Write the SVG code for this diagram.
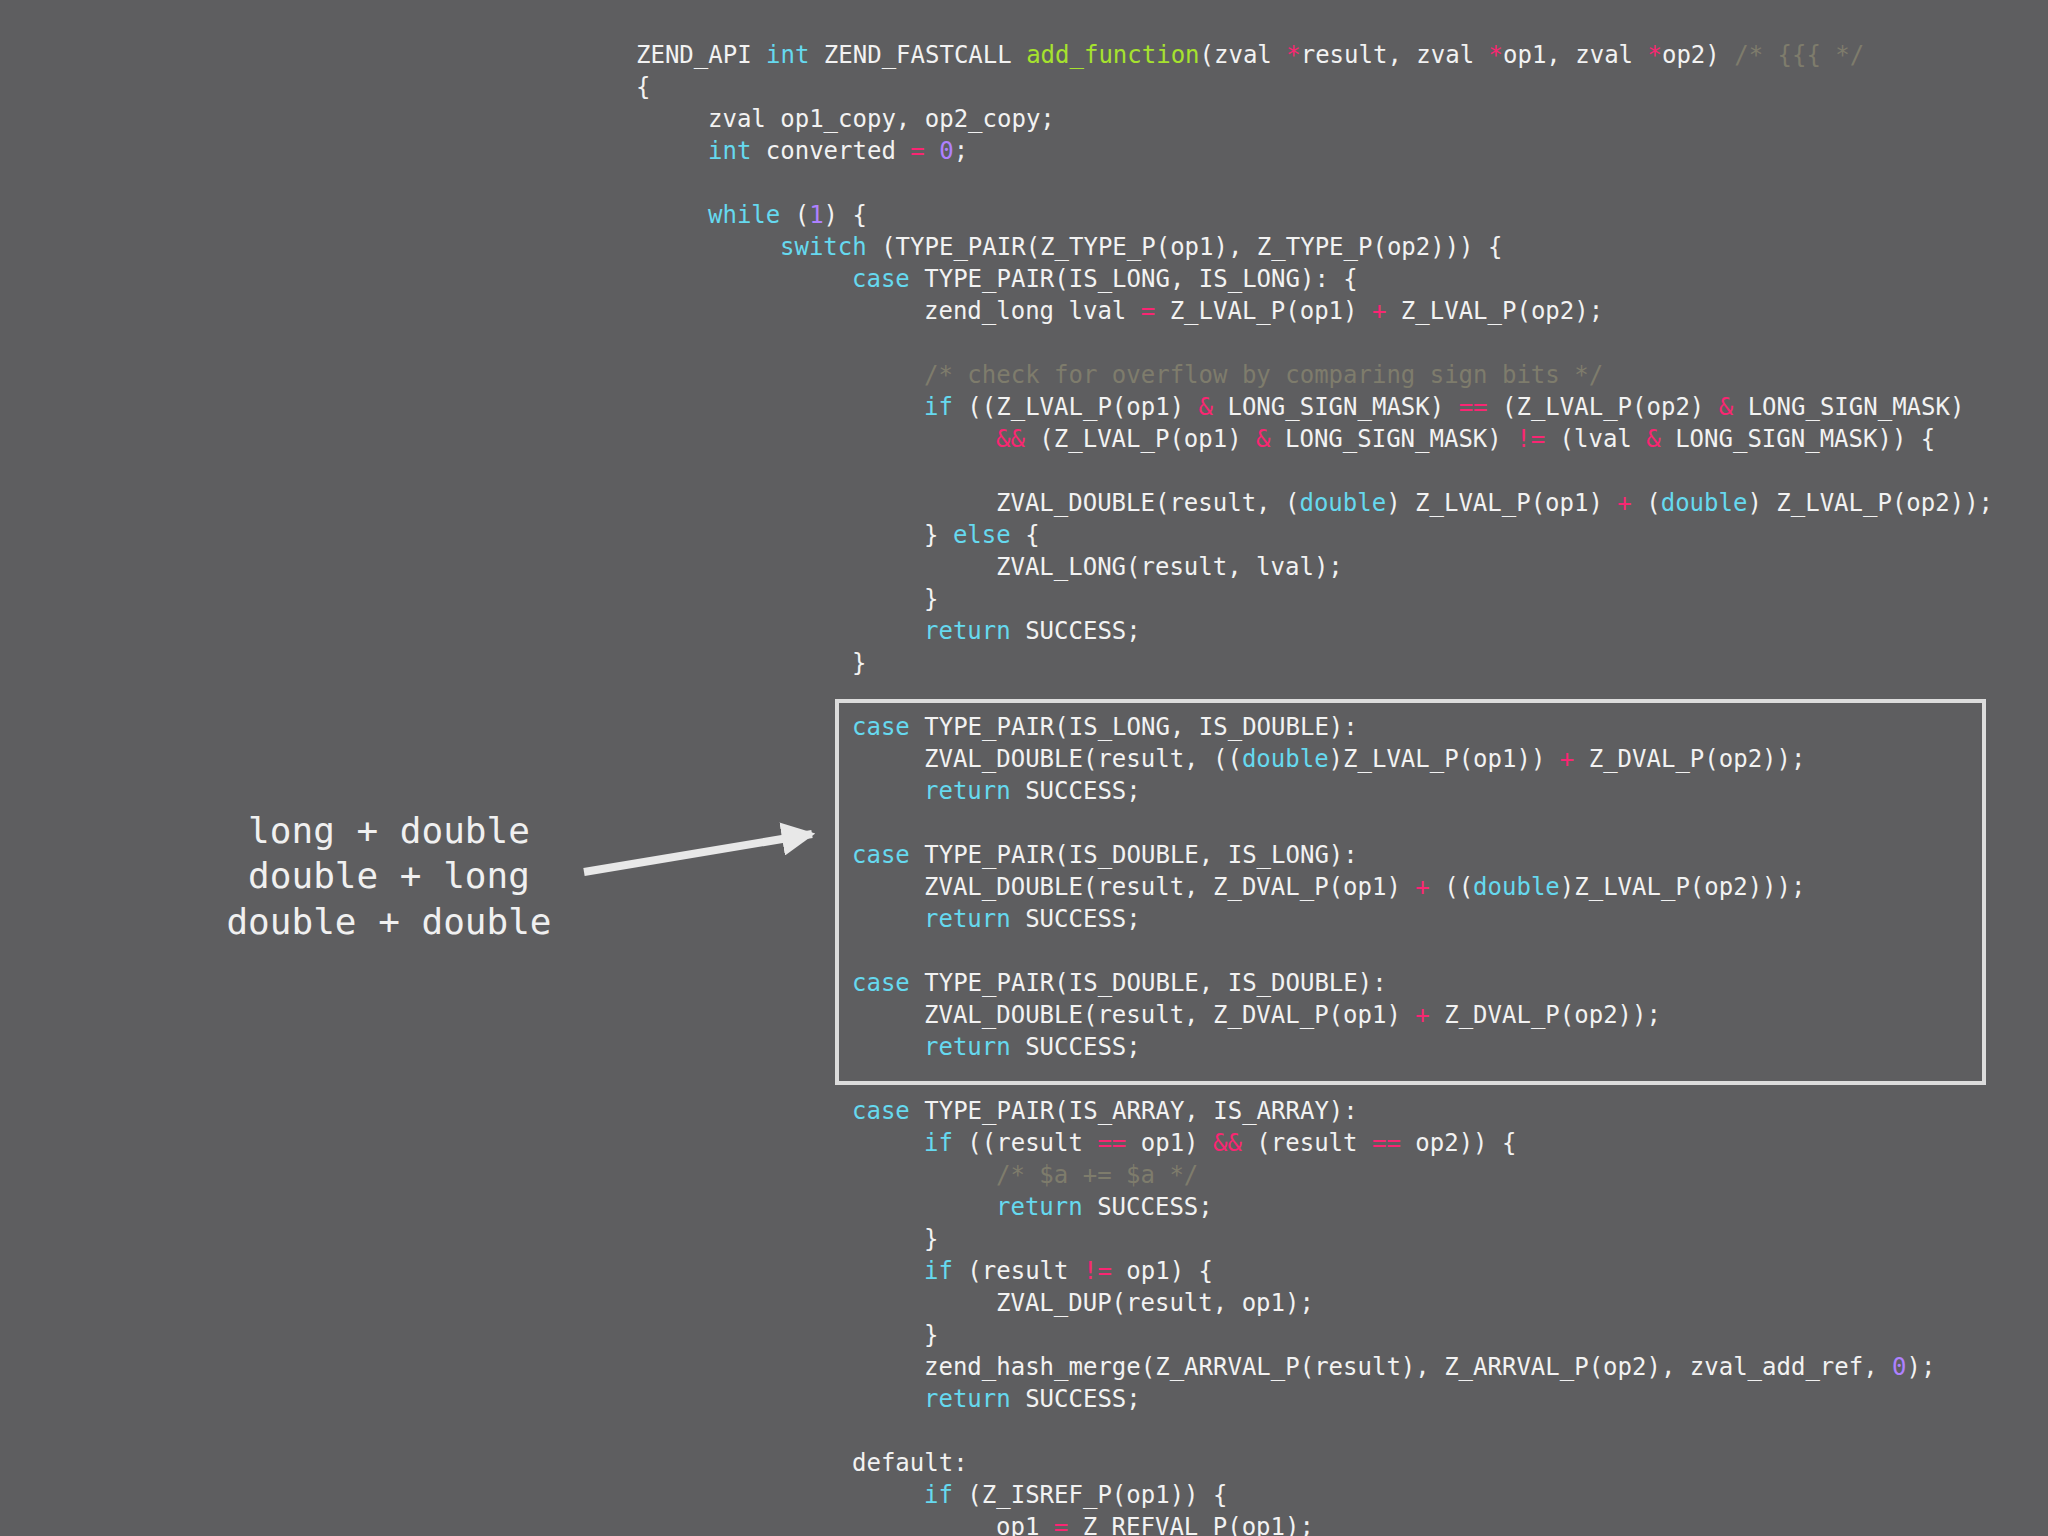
<svg xmlns="http://www.w3.org/2000/svg" width="2048" height="1536" viewBox="0 0 2048 1536">
<style>
.c{font-family:"DejaVu Sans Mono","Liberation Mono",monospace;font-size:24px;fill:#f2f2f2;white-space:pre}
.k{fill:#66d9ef}.o{fill:#f92672}.n{fill:#ae81ff}.f{fill:#a6e22e}.m{fill:#7e7c6c}
.lbl{font-family:"DejaVu Sans Mono","Liberation Mono",monospace;font-size:36px;fill:#f0f0f0;text-anchor:middle}
</style>
<defs><marker id="ah" viewBox="0 0 10 10" refX="9" refY="5" markerWidth="4.2" markerHeight="4.2" orient="auto" markerUnits="strokeWidth"><path d="M0,0 L10,5 L0,10 z" fill="#e8e8e8"/></marker></defs>
<rect width="2048" height="1536" fill="#5e5e60"/>
<g id="code" xml:space="preserve">
<text class="c" x="636" y="63">ZEND_API <tspan class="k">int</tspan> ZEND_FASTCALL <tspan class="f">add_function</tspan>(zval <tspan class="o">*</tspan>result, zval <tspan class="o">*</tspan>op1, zval <tspan class="o">*</tspan>op2) <tspan class="m">/* {{{ */</tspan></text>
<text class="c" x="636" y="95">{</text>
<text class="c" x="708" y="127">zval op1_copy, op2_copy;</text>
<text class="c" x="708" y="159"><tspan class="k">int</tspan> converted <tspan class="o">=</tspan> <tspan class="n">0</tspan>;</text>
<text class="c" x="708" y="223"><tspan class="k">while</tspan> (<tspan class="n">1</tspan>) {</text>
<text class="c" x="780" y="255"><tspan class="k">switch</tspan> (TYPE_PAIR(Z_TYPE_P(op1), Z_TYPE_P(op2))) {</text>
<text class="c" x="852" y="287"><tspan class="k">case</tspan> TYPE_PAIR(IS_LONG, IS_LONG): {</text>
<text class="c" x="924" y="319">zend_long lval <tspan class="o">=</tspan> Z_LVAL_P(op1) <tspan class="o">+</tspan> Z_LVAL_P(op2);</text>
<text class="c m" x="924" y="383">/* check for overflow by comparing sign bits */</text>
<text class="c" x="924" y="415"><tspan class="k">if</tspan> ((Z_LVAL_P(op1) <tspan class="o">&amp;</tspan> LONG_SIGN_MASK) <tspan class="o">==</tspan> (Z_LVAL_P(op2) <tspan class="o">&amp;</tspan> LONG_SIGN_MASK)</text>
<text class="c" x="996" y="447"><tspan class="o">&amp;&amp;</tspan> (Z_LVAL_P(op1) <tspan class="o">&amp;</tspan> LONG_SIGN_MASK) <tspan class="o">!=</tspan> (lval <tspan class="o">&amp;</tspan> LONG_SIGN_MASK)) {</text>
<text class="c" x="996" y="511">ZVAL_DOUBLE(result, (<tspan class="k">double</tspan>) Z_LVAL_P(op1) <tspan class="o">+</tspan> (<tspan class="k">double</tspan>) Z_LVAL_P(op2));</text>
<text class="c" x="924" y="543">} <tspan class="k">else</tspan> {</text>
<text class="c" x="996" y="575">ZVAL_LONG(result, lval);</text>
<text class="c" x="924" y="607">}</text>
<text class="c" x="924" y="639"><tspan class="k">return</tspan> SUCCESS;</text>
<text class="c" x="852" y="671">}</text>
<text class="c" x="852" y="735"><tspan class="k">case</tspan> TYPE_PAIR(IS_LONG, IS_DOUBLE):</text>
<text class="c" x="924" y="767">ZVAL_DOUBLE(result, ((<tspan class="k">double</tspan>)Z_LVAL_P(op1)) <tspan class="o">+</tspan> Z_DVAL_P(op2));</text>
<text class="c" x="924" y="799"><tspan class="k">return</tspan> SUCCESS;</text>
<text class="c" x="852" y="863"><tspan class="k">case</tspan> TYPE_PAIR(IS_DOUBLE, IS_LONG):</text>
<text class="c" x="924" y="895">ZVAL_DOUBLE(result, Z_DVAL_P(op1) <tspan class="o">+</tspan> ((<tspan class="k">double</tspan>)Z_LVAL_P(op2)));</text>
<text class="c" x="924" y="927"><tspan class="k">return</tspan> SUCCESS;</text>
<text class="c" x="852" y="991"><tspan class="k">case</tspan> TYPE_PAIR(IS_DOUBLE, IS_DOUBLE):</text>
<text class="c" x="924" y="1023">ZVAL_DOUBLE(result, Z_DVAL_P(op1) <tspan class="o">+</tspan> Z_DVAL_P(op2));</text>
<text class="c" x="924" y="1055"><tspan class="k">return</tspan> SUCCESS;</text>
<text class="c" x="852" y="1119"><tspan class="k">case</tspan> TYPE_PAIR(IS_ARRAY, IS_ARRAY):</text>
<text class="c" x="924" y="1151"><tspan class="k">if</tspan> ((result <tspan class="o">==</tspan> op1) <tspan class="o">&amp;&amp;</tspan> (result <tspan class="o">==</tspan> op2)) {</text>
<text class="c m" x="996" y="1183">/* $a += $a */</text>
<text class="c" x="996" y="1215"><tspan class="k">return</tspan> SUCCESS;</text>
<text class="c" x="924" y="1247">}</text>
<text class="c" x="924" y="1279"><tspan class="k">if</tspan> (result <tspan class="o">!=</tspan> op1) {</text>
<text class="c" x="996" y="1311">ZVAL_DUP(result, op1);</text>
<text class="c" x="924" y="1343">}</text>
<text class="c" x="924" y="1375">zend_hash_merge(Z_ARRVAL_P(result), Z_ARRVAL_P(op2), zval_add_ref, <tspan class="n">0</tspan>);</text>
<text class="c" x="924" y="1407"><tspan class="k">return</tspan> SUCCESS;</text>
<text class="c" x="852" y="1471">default:</text>
<text class="c" x="924" y="1503"><tspan class="k">if</tspan> (Z_ISREF_P(op1)) {</text>
<text class="c" x="996" y="1535">op1 <tspan class="o">=</tspan> Z_REFVAL_P(op1);</text>
</g>
<g id="box"><rect x="837" y="701" width="1147" height="382" fill="none" stroke="#dcdcdc" stroke-width="4"/></g>
<g id="label">
<text class="lbl" x="389" y="843">long + double</text>
<text class="lbl" x="389" y="888">double + long</text>
<text class="lbl" x="389" y="934">double + double</text>
</g>
<g id="connectors"><line x1="584" y1="872" x2="812" y2="834" stroke="#e8e8e8" stroke-width="8" marker-end="url(#ah)"/></g>
</svg>
